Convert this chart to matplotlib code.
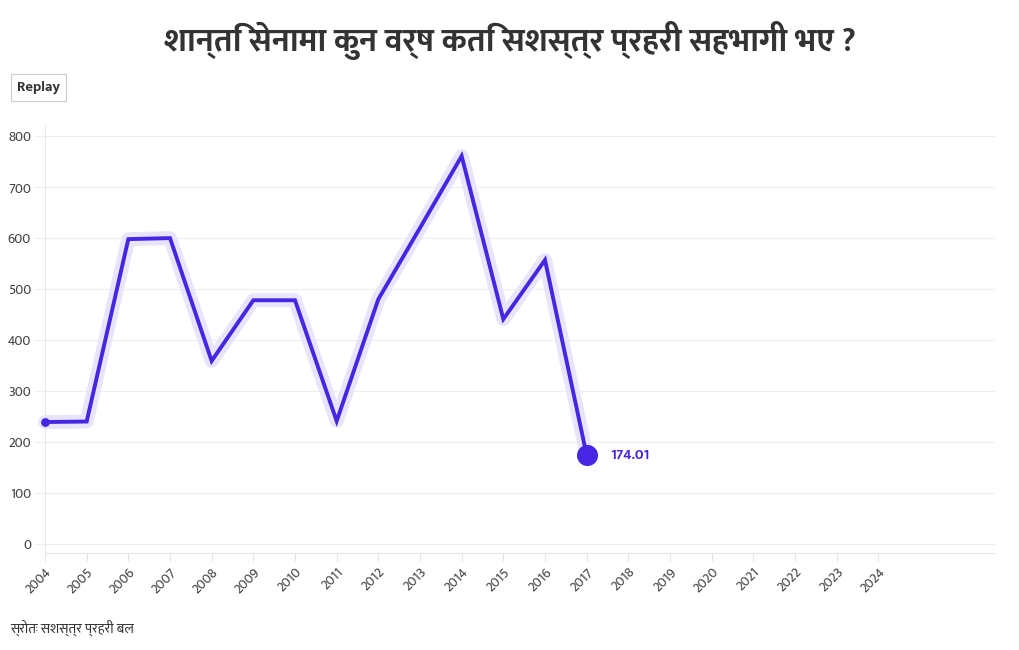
import matplotlib
matplotlib.use("Agg")
import matplotlib.pyplot as plt
from matplotlib.patches import FancyBboxPatch

years = [2004, 2005, 2006, 2007, 2008, 2009, 2010, 2011, 2012, 2013, 2014, 2015, 2016, 2017]
values = [239, 240, 598, 600, 359, 478, 478, 241, 480, 620, 761, 441, 557, 174.01]
tick_years = list(range(2004, 2025))
y_ticks = [0, 100, 200, 300, 400, 500, 600, 700, 800]

title = "शान्ति सेनामा कुन वर्ष कति सशस्त्र प्रहरी सहभागी भए ?"
source = "स्रोतः सशस्त्र प्रहरी बल"
last_label = "174.01"

FONT = ["Mukta", "Noto Sans Devanagari", "DejaVu Sans"]
plt.rcParams["font.family"] = FONT

LINE = "#4626e2"
HALO = "#e7e4fb"

fig = plt.figure(figsize=(10.2, 6.5), dpi=100)
W, H = 1020, 650
x0, x1 = 45, 995
ytop, ybot = 126, 553
ax = fig.add_axes([x0 / W, 1 - ybot / H, (x1 - x0) / W, (ybot - ytop) / H])

ax.plot(years, values, color=HALO, lw=10, solid_capstyle="round", solid_joinstyle="round",
        zorder=2, clip_on=False)
ax.plot(years, values, color=LINE, lw=2.8, solid_joinstyle="miter", zorder=3, clip_on=False)
ax.scatter([years[0]], [values[0]], s=40, color=LINE, zorder=4, linewidths=0, clip_on=False)
ax.scatter([years[-1]], [values[-1]], s=230, color=LINE, zorder=4, linewidths=0, clip_on=False)
ax.annotate(last_label, (years[-1], values[-1]), xytext=(17, 0), textcoords="offset points",
            va="center", ha="left", color=LINE, fontsize=10.5, fontweight="bold")

ax.set_xlim(2004, 2026.8)
ax.set_ylim(-18, 820)
ax.set_yticks(y_ticks)
ax.set_xticks(tick_years)
ax.set_xticklabels([str(y) for y in tick_years], rotation=45, ha="right", rotation_mode="anchor")
ax.tick_params(axis="y", length=8, color="#eeeeee", labelsize=10, labelcolor="#444444", pad=2)
ax.tick_params(axis="x", length=6, color="#e4e4e4", labelsize=10, labelcolor="#444444", pad=3)
ax.grid(axis="y", color="#eeeeee", lw=0.8)
ax.set_axisbelow(True)
for s in ["top", "right"]:
    ax.spines[s].set_visible(False)
ax.spines["left"].set_color("#e6e6e6")
ax.spines["bottom"].set_color("#e6e6e6")

fig.text(0.5, 1 - 40 / H, title, ha="center", va="center", fontsize=23.5, fontweight="bold",
         color="#333333")

btn = FancyBboxPatch((11 / W, 1 - 101 / H), 55 / W, 27 / H, boxstyle="square,pad=0",
                     transform=fig.transFigure, facecolor="white", edgecolor="#cccccc", lw=0.8)
fig.patches.append(btn)
fig.text(38.5 / W, 1 - 87.5 / H, "Replay", ha="center", va="center", fontsize=10.5,
         fontweight="bold", color="#333333")

fig.text(10 / W, 1 - 628 / H, source, ha="left", va="center", fontsize=10, color="#333333")

fig.savefig("out.png", dpi=100)
